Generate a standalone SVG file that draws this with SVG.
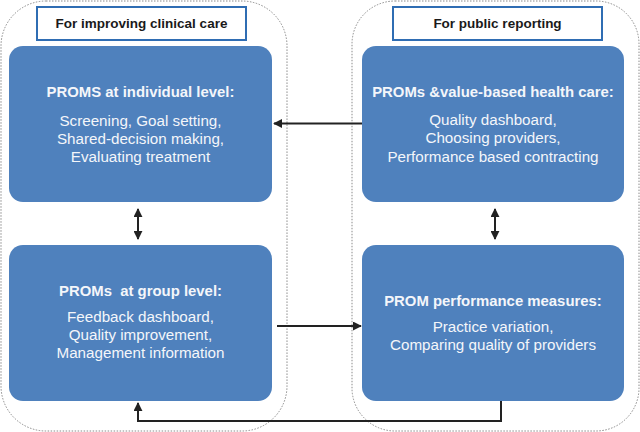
<svg xmlns="http://www.w3.org/2000/svg" width="640" height="432" viewBox="0 0 640 432">
<defs>
<marker id="ah" viewBox="0 0 10 10" refX="9" refY="5" markerWidth="4.5" markerHeight="4.5" orient="auto-start-reverse" markerUnits="strokeWidth">
<path d="M0,0 L10,5 L0,10 z" fill="#222"/>
</marker>
<style>
.cont{fill:none;stroke:#8a8a8a;stroke-width:1;stroke-dasharray:1.5 1.5}
.hdr{fill:#fff;stroke:#2f6db3;stroke-width:2}
.node{fill:#4f81bd}
.ht{font-family:"Liberation Sans",Arial,sans-serif;font-weight:bold;font-size:13.5px;fill:#1a1a1a;text-anchor:middle}
.nt{font-family:"Liberation Sans",Arial,sans-serif;font-size:15.2px;fill:#f4f6fa;text-anchor:middle;white-space:pre}
.nb{font-weight:bold;font-size:14.9px}
.cn{fill:none;stroke:#222;stroke-width:2}
</style>
</defs>
<rect class="cont" x="1" y="1" width="286" height="430" rx="45"/>
<rect class="cont" x="352" y="1" width="287" height="430" rx="43"/>
<g id="hdr-left">
<rect class="hdr" x="37" y="7" width="209" height="33"/>
<text class="ht" x="141.5" y="28">For improving clinical care</text>
</g>
<g id="hdr-right">
<rect class="hdr" x="393" y="7" width="209" height="33"/>
<text class="ht" x="497.5" y="28">For public reporting</text>
</g>
<g id="node-individual">
<rect class="node" x="9" y="46" width="263" height="156" rx="14"/>
<text class="nt nb" x="140.5" y="97">PROMS at individual level:</text>
<text class="nt" x="140.5" y="126">Screening, Goal setting,</text>
<text class="nt" x="140.5" y="144">Shared-decision making,</text>
<text class="nt" x="140.5" y="162">Evaluating treatment</text>
</g>
<g id="node-value">
<rect class="node" x="362" y="46" width="262" height="156" rx="14"/>
<text class="nt nb" x="493" y="97">PROMs &amp;value-based health care:</text>
<text class="nt" x="493" y="125">Quality dashboard,</text>
<text class="nt" x="493" y="143">Choosing providers,</text>
<text class="nt" x="493" y="162">Performance based contracting</text>
</g>
<g id="node-group">
<rect class="node" x="9" y="245" width="263" height="156" rx="14"/>
<text class="nt nb" x="140.5" y="296" xml:space="preserve">PROMs  at group level:</text>
<text class="nt" x="140.5" y="322">Feedback dashboard,</text>
<text class="nt" x="140.5" y="340">Quality improvement,</text>
<text class="nt" x="140.5" y="358">Management information</text>
</g>
<g id="node-performance">
<rect class="node" x="362" y="245" width="262" height="156" rx="14"/>
<text class="nt nb" x="493" y="306">PROM performance measures:</text>
<text class="nt" x="493" y="332">Practice variation,</text>
<text class="nt" x="493" y="350">Comparing quality of providers</text>
</g>
<g id="connectors">
<line class="cn" x1="362" y1="123.5" x2="274" y2="123.5" marker-end="url(#ah)"/>
<line class="cn" x1="138" y1="209" x2="138" y2="239" marker-start="url(#ah)" marker-end="url(#ah)"/>
<line class="cn" x1="495" y1="209" x2="495" y2="239" marker-start="url(#ah)" marker-end="url(#ah)"/>
<line class="cn" x1="277" y1="326" x2="361" y2="326" marker-end="url(#ah)"/>
<polyline class="cn" points="501,401 501,421 138,421 138,403" marker-end="url(#ah)"/>
</g>
</svg>
